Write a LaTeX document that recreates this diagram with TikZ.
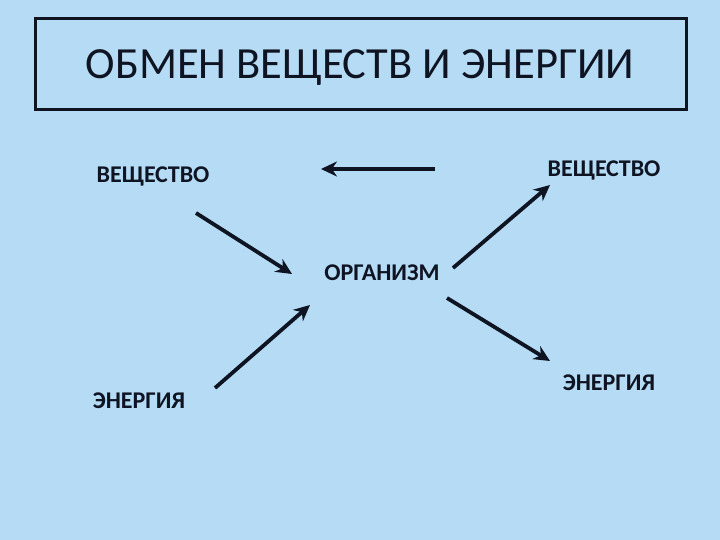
\documentclass[tikz,border=0pt]{standalone}
\usepackage{fontspec}
\setmainfont{Carlito}
\usepackage{tikz}
\usetikzlibrary{arrows.meta}
\definecolor{bgblue}{RGB}{181,219,245}
\definecolor{inkdark}{RGB}{15,20,35}

\begin{document}
\begin{tikzpicture}[x=1pt, y=-1pt, every node/.style={font=\bfseries\fontsize{24}{28}\selectfont, text=inkdark, inner sep=0pt},
  flow/.style={draw=inkdark, line width=3.8pt, -{Stealth[length=16pt, width=15pt]}}]
  \fill[bgblue] (0,0) rectangle (720,540);
  \useasboundingbox (0,0) rectangle (720,540);
  \draw[inkdark, line width=3pt, fill=bgblue] (35,19) rectangle (686,110);
  \node[font=\fontsize{44.5}{50}\selectfont] (title) at (360,68) {ОБМЕН ВЕЩЕСТВ И ЭНЕРГИИ};
  \node (vleft) at (153,176) {ВЕЩЕСТВО};
  \node (vright) at (604,170) {ВЕЩЕСТВО};
  \node (org) at (382,273) {ОРГАНИЗМ};
  \node (eleft) at (139,401) {ЭНЕРГИЯ};
  \node (eright) at (609,383) {ЭНЕРГИЯ};
  \coordinate (top1) at (435,169);
  \coordinate (top2) at (321,169);
  \coordinate (a1) at (196,213);
  \coordinate (a2) at (292,274);
  \coordinate (b1) at (215,388);
  \coordinate (b2) at (310,305);
  \coordinate (c1) at (453,268);
  \coordinate (c2) at (550,185);
  \coordinate (d1) at (447,298);
  \coordinate (d2) at (550,361);
  \draw[flow] (top1) -- (top2);
  \draw[flow] (a1) -- (a2);
  \draw[flow] (b1) -- (b2);
  \draw[flow] (c1) -- (c2);
  \draw[flow] (d1) -- (d2);
\end{tikzpicture}
\end{document}
